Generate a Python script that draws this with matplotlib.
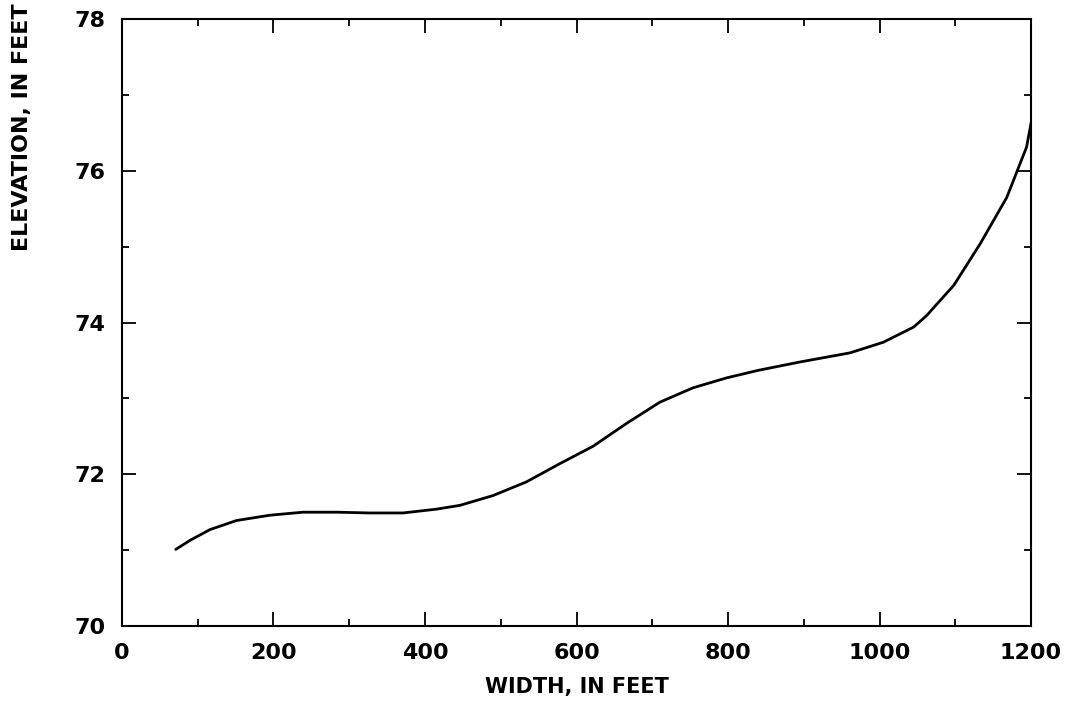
import matplotlib.pyplot as plt
from matplotlib.ticker import MultipleLocator

# values
width = [71, 90, 116, 151, 195, 239, 283, 327, 371, 415, 446, 490, 534,
         578, 622, 666, 710, 754, 798, 840, 895, 961, 1005, 1045, 1062,
         1080, 1098, 1133, 1168, 1194, 1201]
elevation = [71.01, 71.13, 71.27, 71.39, 71.46, 71.50, 71.50, 71.49, 71.49,
             71.54, 71.59, 71.72, 71.90, 72.14, 72.37, 72.67, 72.95, 73.14,
             73.27, 73.37, 73.48, 73.60, 73.74, 73.94, 74.09, 74.29, 74.49,
             75.04, 75.65, 76.31, 76.68]

plt.rcParams['font.family'] = ['DejaVu Sans']
plt.rcParams['font.weight'] = 'bold'

fig = plt.figure(figsize=(10.7, 7.1), dpi=100)
ax = fig.add_axes([0.114, 0.1183, 0.8496, 0.8549])

ax.plot(width, elevation, color='black', linewidth=2.0,
        solid_joinstyle='round', solid_capstyle='round')

ax.set_xlim(0, 1200)
ax.set_ylim(70, 78)
ax.xaxis.set_major_locator(MultipleLocator(200))
ax.xaxis.set_minor_locator(MultipleLocator(100))
ax.yaxis.set_major_locator(MultipleLocator(2))
ax.yaxis.set_minor_locator(MultipleLocator(1))
ax.tick_params(which='both', direction='in', top=True, right=True,
               width=1.3, labelsize=16)
ax.tick_params(which='major', length=10, pad=12)
ax.tick_params(which='minor', length=5)
for sp in ax.spines.values():
    sp.set_linewidth(1.5)

ax.set_xlabel('WIDTH, IN FEET', fontsize=15, fontweight='bold', labelpad=10)
# y label sits high up near the top edge, like the original
fig.text(22 / 1070, (710 - 3) / 710, 'ELEVATION, IN FEET', rotation=90,
         ha='center', va='top', fontsize=16, fontweight='bold')

fig.savefig('out.png', dpi=100)
